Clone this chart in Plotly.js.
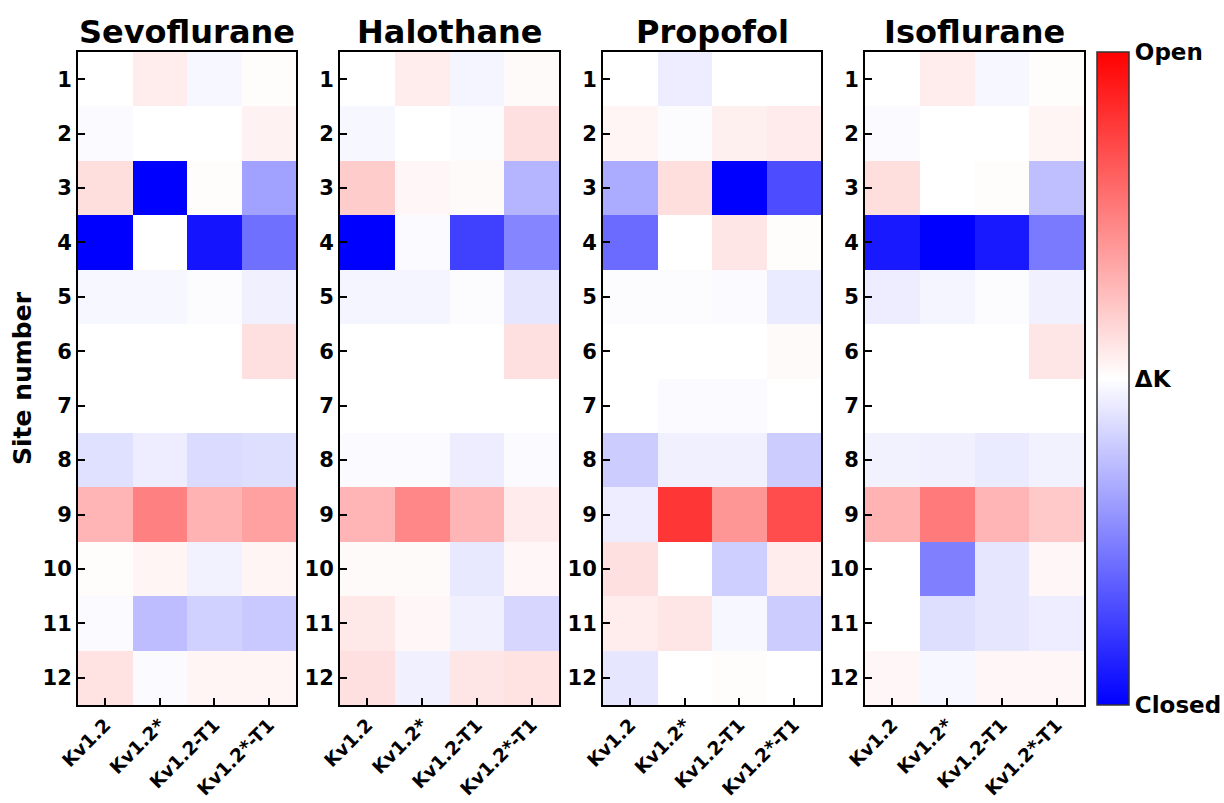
<!DOCTYPE html>
<html>
<head>
<meta charset="utf-8">
<script src="https://cdn.plot.ly/plotly-3.0.1.min.js"></script>
<style>html,body{margin:0;padding:0;background:#fff;}#chart{width:1224px;height:803px;}</style>
</head>
<body>
<div id="chart"></div>
<script>
const constructs = ["Kv1.2", "Kv1.2*", "Kv1.2-T1", "Kv1.2*-T1"];
const sites = [1,2,3,4,5,6,7,8,9,10,11,12];
const anesthetics = ["Sevoflurane", "Halothane", "Propofol", "Isoflurane"];

// rows = site 1..12, columns = constructs
const sevoflurane = [
  [0.00, 0.07, -0.03, 0.01],
  [-0.02, 0.00, 0.00, 0.05],
  [0.13, -1.00, 0.01, -0.37],
  [-1.00, 0.00, -0.92, -0.56],
  [-0.03, -0.03, -0.01, -0.06],
  [0.00, 0.00, 0.00, 0.12],
  [0.00, 0.00, 0.00, 0.00],
  [-0.12, -0.07, -0.14, -0.13],
  [0.29, 0.50, 0.30, 0.37],
  [0.01, 0.04, -0.05, 0.04],
  [-0.02, -0.26, -0.18, -0.21],
  [0.11, -0.02, 0.04, 0.04]
];
const halothane = [
  [0.00, 0.07, -0.04, 0.02],
  [-0.03, 0.00, -0.01, 0.12],
  [0.20, 0.03, 0.02, -0.29],
  [-1.00, -0.02, -0.75, -0.48],
  [-0.04, -0.04, -0.01, -0.10],
  [0.00, 0.00, 0.00, 0.12],
  [0.00, 0.00, 0.00, 0.00],
  [-0.02, -0.02, -0.07, -0.02],
  [0.29, 0.47, 0.29, 0.08],
  [0.02, 0.02, -0.09, 0.03],
  [0.09, 0.03, -0.06, -0.16],
  [0.12, -0.06, 0.10, 0.11]
];
const propofol = [
  [0.00, -0.07, 0.00, 0.00],
  [0.04, -0.01, 0.06, 0.08],
  [-0.33, 0.13, -1.00, -0.70],
  [-0.58, 0.00, 0.10, 0.01],
  [-0.01, -0.01, -0.02, -0.08],
  [0.00, 0.00, 0.00, 0.02],
  [0.00, -0.02, -0.02, 0.00],
  [-0.20, -0.06, -0.06, -0.20],
  [-0.07, 0.79, 0.41, 0.70],
  [0.12, 0.00, -0.19, 0.07],
  [0.07, 0.10, -0.03, -0.20],
  [-0.10, 0.00, 0.01, 0.00]
];
const isoflurane = [
  [0.00, 0.07, -0.03, 0.01],
  [-0.02, 0.00, 0.00, 0.04],
  [0.13, 0.00, 0.01, -0.25],
  [-0.90, -1.00, -0.90, -0.52],
  [-0.07, -0.04, -0.01, -0.06],
  [0.00, 0.00, 0.00, 0.10],
  [0.00, 0.00, 0.00, 0.00],
  [-0.05, -0.06, -0.08, -0.05],
  [0.30, 0.52, 0.29, 0.21],
  [0.00, -0.50, -0.10, 0.03],
  [0.00, -0.13, -0.10, -0.07],
  [0.03, -0.03, 0.03, 0.03]
];
const colorbarTickText = ["Closed", "\u0394K", "Open"];

const W = 1224, H = 803;
const FONT = "DejaVu Sans";
const panels = [sevoflurane, halothane, propofol, isoflurane];
const xPix = [[78, 296], [340, 559], [603, 821], [865, 1084]];
const yDom = [(H - 705) / H, (H - 52) / H];
const bwr = [[0, "rgb(0,0,255)"], [0.5, "rgb(255,255,255)"], [1, "rgb(255,0,0)"]];

const xIdx = constructs.map((c, i) => i);
const data = [];
const layout = {
  width: W, height: H,
  margin: {l: 0, r: 0, t: 0, b: 0},
  paper_bgcolor: "#fff", plot_bgcolor: "#fff",
  font: {family: FONT, color: "#000"},
  showlegend: false,
  annotations: []
};

panels.forEach((z, k) => {
  const n = k === 0 ? "" : String(k + 1);
  const trace = {
    type: "heatmap",
    x: xIdx, y: sites, z: z,
    xaxis: "x" + n, yaxis: "y" + n,
    colorscale: bwr, zmin: -1, zmax: 1,
    hoverinfo: "skip",
    showscale: k === 3
  };
  if (k === 3) {
    trace.colorbar = {
      x: 1097 / W, xanchor: "left", xpad: 0, ypad: 0,
      y: (H - 378.5) / H, yanchor: "middle",
      thickness: 32, thicknessmode: "pixels",
      len: 653, lenmode: "pixels",
      outlinewidth: 1.5, outlinecolor: "#333",
      tickvals: [-1, 0, 1], ticktext: colorbarTickText,
      ticks: "", ticklen: 0,
      tickfont: {family: FONT, size: 23, color: "#000", weight: "bold"}
    };
  }
  data.push(trace);
  const axCommon = {
    showline: true, mirror: true, linewidth: 2, linecolor: "#000",
    ticks: "inside", ticklen: 7, tickwidth: 2, tickcolor: "#000",
    showgrid: false, zeroline: false, fixedrange: true
  };
  layout["xaxis" + n] = Object.assign({}, axCommon, {
    domain: [xPix[k][0] / W, xPix[k][1] / W],
    anchor: "y" + n,
    range: [-0.5, 3.5],
    tickvals: xIdx, ticktext: constructs,
    tickangle: -45,
    tickfont: {family: FONT, size: 18.5, color: "#000", weight: "bold"}
  });
  layout["yaxis" + n] = Object.assign({}, axCommon, {
    domain: yDom,
    anchor: "x" + n,
    range: [12.5, 0.5],
    tickvals: sites, ticktext: sites.map(String),
    tickfont: {family: FONT, size: 21, color: "#000", weight: "bold"},
    title: k === 0 ? {text: "Site number", font: {family: FONT, size: 25, color: "#000", weight: "bold"}, standoff: 4} : undefined
  });
  layout.annotations.push({
    text: anesthetics[k],
    xref: "paper", yref: "paper",
    x: (xPix[k][0] + xPix[k][1]) / 2 / W, y: (H - 32) / H,
    xanchor: "center", yanchor: "middle",
    showarrow: false,
    font: {family: FONT, size: 32, color: "#000", weight: "bold"}
  });
});

Plotly.newPlot("chart", data, layout, {displayModeBar: false, staticPlot: true});
</script>
</body>
</html>
